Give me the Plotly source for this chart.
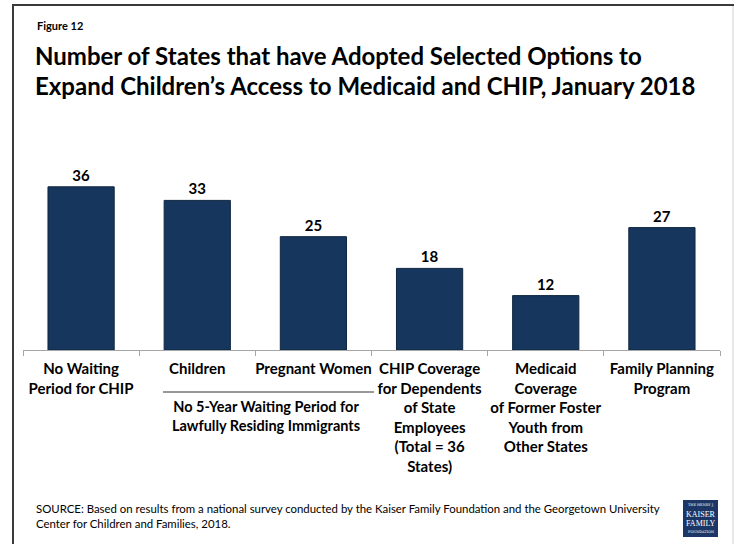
import plotly.graph_objects as go

categories = [
    "No Waiting<br>Period for CHIP",
    "Children",
    "Pregnant Women",
    "CHIP Coverage<br>for Dependents<br>of State<br>Employees<br>(Total = 36<br>States)",
    "Medicaid<br>Coverage<br>of Former Foster<br>Youth from<br>Other States",
    "Family Planning<br>Program",
]
values = [36, 33, 25, 18, 12, 27]

W, H = 734, 544
L, R, T, B = 23, 14, 146, 194
PW = W - L - R
PH = H - T - B
YMAX = 45


def px(x):
    return (x - L) / PW


def py(y):
    return (H - B - y) / PH


FONT = "Lato"
BAR = "#17365D"

fig = go.Figure()
fig.add_trace(go.Bar(
    x=categories,
    y=values,
    width=0.57,
    marker=dict(color=BAR, line=dict(color="#0f2640", width=1)),
    text=[str(v) for v in values],
    textposition="outside",
    textfont=dict(family=FONT, size=15, color="black", weight="bold"),
    cliponaxis=False,
    hoverinfo="skip",
))

shapes = [
    # frame
    dict(type="line", xref="paper", yref="paper", x0=px(13), x1=px(13), y0=py(5), y1=py(560),
         line=dict(color="#3a3a3a", width=2)),
    dict(type="line", xref="paper", yref="paper", x0=px(12), x1=px(740), y0=py(5), y1=py(5),
         line=dict(color="#3a3a3a", width=2)),
    dict(type="line", xref="paper", yref="paper", x0=px(733), x1=px(733), y0=py(6), y1=py(560),
         line=dict(color="#d0d0d0", width=1)),
    # group bracket line
    dict(type="line", xref="paper", yref="paper", x0=px(163), x1=px(374), y0=py(392), y1=py(392),
         line=dict(color="#333333", width=1)),
    # logo box
    dict(type="rect", xref="paper", yref="paper", x0=px(683), x1=px(718), y0=py(537), y1=py(500),
         fillcolor="#1c3766", line=dict(width=0)),
]


def ann(text, x, y, size, xanchor="left", yanchor="middle", family=FONT, color="black", align="left"):
    return dict(text=text, x=px(x), y=py(y), xref="paper", yref="paper",
                xanchor=xanchor, yanchor=yanchor, align=align, showarrow=False,
                font=dict(family=family, size=size, color=color))


annotations = [
    ann("<b>Figure 12</b>", 35, 25, 11),
    ann("<b>Number of States that have Adopted Selected Options to</b>", 33, 55, 24),
    ann("<b>Expand Children\u2019s Access to Medicaid and CHIP, January 2018</b>", 33, 86, 24),
    ann("<b>No 5-Year Waiting Period for<br>Lawfully Residing Immigrants</b>", 266, 396, 14.5,
        xanchor="center", yanchor="top", align="center"),
    ann("SOURCE: Based on results from a national survey conducted by the Kaiser Family Foundation and the Georgetown University<br>Center for Children and Families, 2018.",
        34, 500, 11.4, yanchor="top"),
    ann("THE HENRY J.", 700.5, 505, 3.5, xanchor="center", family="DejaVu Serif", color="white"),
    ann("KAISER", 700.5, 514, 8, xanchor="center", family="Liberation Serif", color="white"),
    ann("FAMILY", 700.5, 523.5, 8, xanchor="center", family="Liberation Serif", color="white"),
    ann("FOUNDATION", 700.5, 532, 3.5, xanchor="center", family="DejaVu Serif", color="white"),
]

fig.update_layout(
    width=W, height=H,
    margin=dict(l=L, r=R, t=T, b=B, pad=0, autoexpand=False),
    paper_bgcolor="white", plot_bgcolor="white",
    showlegend=False,
    shapes=shapes,
    annotations=annotations,
    xaxis=dict(
        showline=True, linecolor="#a6a6a6", linewidth=1,
        ticks="outside", tickson="boundaries", ticklen=5, tickcolor="#a6a6a6",
        tickangle=0, automargin=False, ticklabelstandoff=5,
        tickfont=dict(family=FONT, size=15, color="black", weight="bold"),
        showgrid=False, zeroline=False, fixedrange=True,
    ),
    yaxis=dict(visible=False, range=[0, YMAX], showgrid=False, zeroline=False, fixedrange=True,
               automargin=False),
)

fig.write_html("out.html", config={"displayModeBar": False},
               post_script="document.body.style.margin='0';document.body.style.overflow='hidden';")
